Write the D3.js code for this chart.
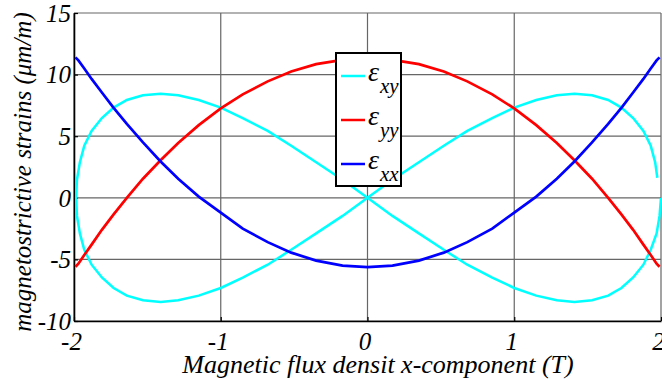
<!DOCTYPE html>
<html>
<head>
<meta charset="utf-8">
<script src="https://cdn.jsdelivr.net/npm/d3@7"></script>
<style>
  body { margin: 0; background: #fff; }
</style>
</head>
<body>
<svg id="chart" width="662" height="379"></svg>
<script>
// x grid shared by eps_xx and eps_yy (T)
var bx = [-1.99, -1.97, -1.93, -1.88, -1.81, -1.73, -1.64, -1.53, -1.41, -1.29, -1.15, -1.00, -0.85, -0.68, -0.52, -0.35, -0.17, 0,
          0.17, 0.35, 0.52, 0.68, 0.85, 1.00, 1.15, 1.29, 1.41, 1.53, 1.64, 1.73, 1.81, 1.88, 1.93, 1.97, 1.99];
var epsXX = [11.4, 11.15, 10.5, 9.65, 8.55, 7.3, 6.0, 4.5, 2.95, 1.55, 0.1, -1.2, -2.5, -3.6, -4.45, -5.1, -5.5, -5.63,
             -5.5, -5.1, -4.45, -3.6, -2.5, -1.2, 0.1, 1.55, 2.95, 4.5, 6.0, 7.3, 8.55, 9.65, 10.5, 11.15, 11.4];
var epsYY = [-5.6, -5.35, -4.65, -3.8, -2.6, -1.35, 0.0, 1.55, 3.05, 4.45, 5.9, 7.25, 8.4, 9.45, 10.25, 10.85, 11.2, 11.35,
             11.2, 10.85, 10.25, 9.45, 8.4, 7.25, 5.9, 4.45, 3.05, 1.55, 0.0, -1.35, -2.6, -3.8, -4.65, -5.35, -5.6];

// eps_xy traced as a figure eight
var cx = [2.00, 1.99, 1.97, 1.93, 1.88, 1.81, 1.73, 1.64, 1.53, 1.41, 1.29, 1.15, 1.00, 0.85, 0.68, 0.52, 0.35, 0.17, 0.00,
          -0.17, -0.35, -0.52, -0.68, -0.85, -1.00, -1.15, -1.29, -1.41, -1.53, -1.64, -1.73, -1.81, -1.88, -1.93, -1.96, -1.98, -1.985,
          -1.98, -1.96, -1.93, -1.88, -1.81, -1.73, -1.64, -1.53, -1.41, -1.29, -1.15, -1.00, -0.85, -0.68, -0.52, -0.35, -0.17, 0.00,
          0.17, 0.35, 0.52, 0.68, 0.85, 1.00, 1.15, 1.29, 1.41, 1.53, 1.64, 1.73, 1.81, 1.88, 1.93, 1.96, 1.975];
var cy = [0, -1.47, -2.89, -4.22, -5.43, -6.47, -7.32, -7.94, -8.32, -8.45, -8.32, -7.94, -7.32, -6.47, -5.43, -4.22, -2.89, -1.47, 0,
          1.47, 2.89, 4.22, 5.43, 6.47, 7.32, 7.94, 8.32, 8.45, 8.32, 7.94, 7.32, 6.47, 5.43, 4.22, 2.89, 1.47, 0,
          -1.47, -2.89, -4.22, -5.43, -6.47, -7.32, -7.94, -8.32, -8.45, -8.32, -7.94, -7.32, -6.47, -5.43, -4.22, -2.89, -1.47, 0,
          1.47, 2.89, 4.22, 5.43, 6.47, 7.32, 7.94, 8.32, 8.45, 8.32, 7.94, 7.32, 6.47, 5.43, 4.22, 2.89, 1.63];

var xTicks = [-2, -1, 0, 1, 2];
var yTicks = [-10, -5, 0, 5, 10, 15];

var FONT = "Liberation Serif";
var svg = d3.select("#chart");
var plotL = 74, plotR = 661, plotT = 13, plotB = 321;

var x = d3.scaleLinear().domain([-2, 2]).range([plotL, plotR]);
var y = d3.scaleLinear().domain([-10, 15]).range([plotB, plotT]);

// grid
svg.append("g").selectAll("line").data(xTicks).join("line")
  .attr("x1", function(d) { return x(d); }).attr("x2", function(d) { return x(d); })
  .attr("y1", plotT).attr("y2", plotB)
  .attr("stroke", "#666").attr("stroke-width", 1.2);
svg.append("g").selectAll("line").data(yTicks).join("line")
  .attr("x1", plotL).attr("x2", plotR)
  .attr("y1", function(d) { return y(d); }).attr("y2", function(d) { return y(d); })
  .attr("stroke", "#666").attr("stroke-width", 1.2);

// axes (ticks inside, plain hyphen minus like the original)
var fmt = function(d) { return String(d); };
var xAxis = svg.append("g").attr("transform", "translate(0," + plotB + ")")
  .call(d3.axisBottom(x).tickValues(xTicks).tickFormat(fmt).tickSizeInner(-4).tickSizeOuter(0).tickPadding(11));
var yAxis = svg.append("g").attr("transform", "translate(" + plotL + ",0)")
  .call(d3.axisLeft(y).tickValues(yTicks).tickFormat(fmt).tickSizeInner(-4).tickSizeOuter(0).tickPadding(3));

[xAxis, yAxis].forEach(function(a) {
  a.attr("font-family", FONT).attr("font-size", 25).attr("font-style", "italic");
  a.select(".domain").attr("stroke", "#000").attr("stroke-width", 1.6);
  a.selectAll(".tick line").attr("stroke", "#000").attr("stroke-width", 1.2);
  a.selectAll("text").attr("fill", "#000");
});
xAxis.selectAll("text").attr("dx", -3);
yAxis.selectAll("text").attr("dy", "0.33em");

// lines
var line = d3.line().x(function(d) { return x(d[0]); }).y(function(d) { return y(d[1]); });

svg.append("path").datum(cx.map(function(v, i) { return [v, cy[i]]; }))
  .attr("d", line).attr("fill", "none").attr("stroke", "#00ffff").attr("stroke-width", 2.5);
svg.append("path").datum(bx.map(function(v, i) { return [v, epsYY[i]]; }))
  .attr("d", line).attr("fill", "none").attr("stroke", "#ff0000").attr("stroke-width", 2.7);
svg.append("path").datum(bx.map(function(v, i) { return [v, epsXX[i]]; }))
  .attr("d", line).attr("fill", "none").attr("stroke", "#0000ff").attr("stroke-width", 2.7);

// axis titles
svg.append("text").attr("x", 378).attr("y", 373).attr("text-anchor", "middle")
  .attr("font-family", FONT).attr("font-style", "italic")
  .attr("font-size", 26).text("Magnetic flux densit x-component (T)");
svg.append("text").attr("transform", "translate(31,172) rotate(-90)").attr("text-anchor", "middle")
  .attr("font-family", FONT).attr("font-style", "italic")
  .attr("font-size", 25).text("magnetostrictive strains (\u03bcm/m)");

// legend
var legend = [
  { sub: "xy", color: "#00ffff" },
  { sub: "yy", color: "#ff0000" },
  { sub: "xx", color: "#0000ff" }
];
var lg = svg.append("g").attr("font-family", FONT).attr("font-style", "italic");
lg.append("rect").attr("x", 336).attr("y", 53).attr("width", 65).attr("height", 133)
  .attr("fill", "#fff").attr("stroke", "#000").attr("stroke-width", 2);
var item = lg.selectAll("g.item").data(legend).join("g").attr("class", "item")
  .attr("transform", function(d, i) { return "translate(0," + (76 + i * 44) + ")"; });
item.append("line").attr("x1", 341).attr("x2", 365).attr("y1", 0).attr("y2", 0)
  .attr("stroke", function(d) { return d.color; }).attr("stroke-width", 2.5);
item.append("text").attr("x", 368).attr("y", 5).attr("font-size", 28).text("\u03b5");
item.append("text").attr("x", 380).attr("y", 17).attr("font-size", 21).text(function(d) { return d.sub; });
</script>
</body>
</html>
